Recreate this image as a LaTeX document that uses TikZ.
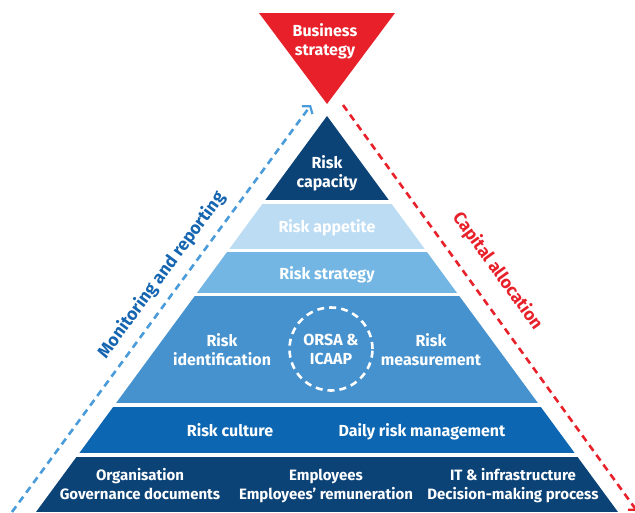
\documentclass[tikz,border=0pt]{standalone}
\usepackage{fontspec}
\setmainfont{Fira Sans}
\usetikzlibrary{arrows.meta,positioning,calc}
\definecolor{bizred}{HTML}{E8202A}
\definecolor{navy}{HTML}{0C4377}
\definecolor{appetite}{HTML}{BCDCF3}
\definecolor{stratblue}{HTML}{73B6E4}
\definecolor{midblue}{HTML}{4592CF}
\definecolor{culture}{HTML}{0C66B2}
\definecolor{monline}{HTML}{4A9BD9}
\definecolor{montext}{HTML}{1565B0}

\begin{document}
\begin{tikzpicture}[x=1pt,y=-1pt,
  every node/.style={font=\bfseries\fontsize{16}{19}\selectfont,align=center,inner sep=0pt,text depth=0pt},
  lbl/.style={text=white},
  small/.style={font=\bfseries\fontsize{15}{19}\selectfont},
  side/.style={font=\bfseries\fontsize{17.5}{20}\selectfont},
  flow/.style={dashed,dash pattern=on 7pt off 5pt,line width=2.6pt,-{Straight Barb[length=5pt,width=13pt,line width=2.2pt]}}]
\useasboundingbox (0,0) rectangle (635,512);
%
% pyramid bands
  \begin{scope}
    \clip (327,116) -- (36,512) -- (618,512) -- cycle;
    \foreach \top/\bot/\col in {116/200/navy,204/249/appetite,252/293/stratblue,296/403/midblue,407/453/culture,457/512/navy}
      \fill[\col] (0,\top) rectangle (635,\bot);
  \end{scope}
%
% business strategy
  \fill[bizred] (259,13) -- (395,13) -- (327,104) -- cycle;
  \node[lbl] (biz) at (325,40) {Business\\strategy};
%
  \node[lbl] (cap) at (327,172) {Risk\\capacity};
  \node[lbl] (app) at (327,226) {Risk appetite};
  \node[lbl] (strat) at (327,273) {Risk strategy};
  \node[lbl] (ident) at (222,350) {Risk\\identification};
  \node[lbl,draw=white,dashed,dash pattern=on 7pt off 5pt,line width=2.6pt,circle,minimum size=83pt] (orsa) at (331,349) {ORSA \&\\ICAAP};
  \node[lbl] (meas) at (431,350) {Risk\\measurement};
  \node[lbl] (cult) at (230,430) {Risk culture};
  \node[lbl] (daily) at (422,430) {Daily risk management};
  \node[lbl,small] (org) at (140,484) {Organisation\\Governance documents};
  \node[lbl,small] (emp) at (326,484) {Employees\\Employees' remuneration};
  \node[lbl,small] (it) at (513,484) {IT \& infrastructure\\Decision-making process};
%
% side arrows
  \coordinate (monA) at (12,512);
  \coordinate (monB) at (311,105);
  \coordinate (capA) at (343,105);
  \coordinate (capB) at (637,511);
  \draw[flow,monline] (monA) -- (monB);
  \draw[flow,bizred] (capA) -- (capB);
  \node[side,text=montext,rotate=53.7] (mon) at (160,274) {Monitoring and reporting};
  \node[side,text=bizred,rotate=-54.1] (alloc) at (499,270) {Capital allocation};
\end{tikzpicture}
\end{document}
